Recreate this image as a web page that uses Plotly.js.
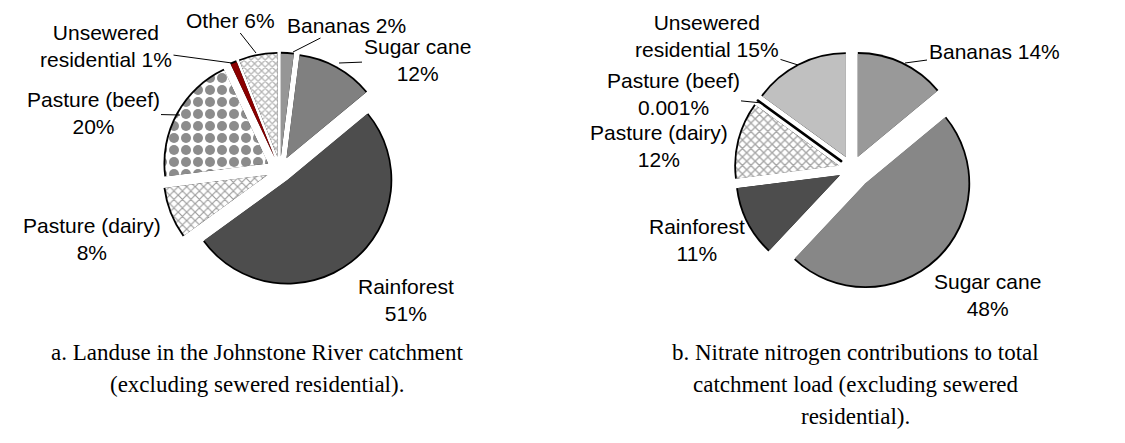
<!DOCTYPE html>
<html>
<head>
<meta charset="utf-8">
<script src="https://cdn.plot.ly/plotly-3.0.1.min.js"></script>
<style>html,body{margin:0;padding:0;background:#fff;}#chart{width:1125px;height:443px;}</style>
</head>
<body>
<div id="chart"></div>
<script>
// ---------- DATA ----------
// Chart a: landuse in the Johnstone River catchment (% of area)
const labelsA = ['Bananas', 'Sugar cane', 'Rainforest', 'Pasture (dairy)', 'Pasture (beef)', 'Unsewered residential', 'Other'];
const valuesA = [2, 12, 51, 8, 20, 1, 6];
const pctTextA = ['2%', '12%', '51%', '8%', '20%', '1%', '6%'];

// Chart b: nitrate nitrogen contributions (% of total catchment load)
const labelsB = ['Bananas', 'Sugar cane', 'Rainforest', 'Pasture (dairy)', 'Pasture (beef)', 'Unsewered residential'];
const valuesB = [14, 48, 11, 12, 0.001, 15];
const pctTextB = ['14%', '48%', '11%', '12%', '0.001%', '15%'];

const captionA = ['a. Landuse in the Johnstone River catchment', '(excluding sewered residential).'];
const captionB = ['b. Nitrate nitrogen contributions to total', 'catchment load (excluding sewered', 'residential).'];

// ---------- LAYOUT / STYLE ----------
const W = 1125, H = 443, R = 103, RIM = 1.6;
function dom(cx, cy, half) {
  return {x: [(cx - half) / W, (cx + half) / W], y: [1 - (cy + half) / H, 1 - (cy - half) / H]};
}
const pullA = [0.13, 0.13, 0.12, 0.13, 0.13, 0.13, 0.13];
const pullB = [0.13, 0.19, 0.13, 0.13, 0.13, 0.13];
const maxA = Math.max(...pullA), maxB = Math.max(...pullB);
const ctrA = [280, 170], ctrB = [852, 169];

const colorsA = ['#969696', '#808080', '#4d4d4d', '#ffffff', '#ffffff', '#8b0000', '#ffffff'];
const patA = {
  shape:   ['', '', '', 'x', '.', '', 'x'],
  fgcolor: ['#000', '#000', '#000', '#9c9c9c', '#8c8c8c', '#000', '#b4b4b4'],
  bgcolor: ['#fff', '#fff', '#fff', '#ffffff', '#ffffff', '#fff', '#ffffff'],
  size:    [8, 8, 8, 6, 12, 8, 5],
  solidity:[0.3, 0.3, 0.3, 0.35, 0.55, 0.3, 0.45]
};
const colorsB = ['#999999', '#878787', '#4d4d4d', '#ffffff', '#000000', '#c0c0c0'];
const patB = {
  shape:   ['', '', '', 'x', '', ''],
  fgcolor: ['#000', '#000', '#000', '#a6a6a6', '#000', '#000'],
  bgcolor: ['#fff', '#fff', '#fff', '#ffffff', '#fff', '#fff'],
  size:    [8, 8, 8, 6, 8, 8],
  solidity:[0.3, 0.3, 0.3, 0.4, 0.3, 0.3]
};

function pieTrace(labels, values, pull, ctr, maxPull, r, colors, pattern, lineW) {
  const t = {
    type: 'pie', labels: labels, values: values, sort: false, direction: 'clockwise', rotation: 0,
    pull: pull, domain: dom(ctr[0], ctr[1], r * (1 + maxPull)),
    textinfo: 'none', hoverinfo: 'skip', showlegend: false,
    marker: {colors: colors, line: {color: '#000', width: lineW}}
  };
  if (pattern) t.marker.pattern = pattern;
  return t;
}

const data = [
  // black rims (outer arcs) underneath
  pieTrace(labelsA, valuesA, pullA, ctrA, maxA, R + RIM, labelsA.map(() => '#000'), null, 0),
  pieTrace(labelsB, valuesB, pullB, ctrB, maxB, R + RIM, labelsB.map(() => '#000'), null, 0),
  // coloured slices
  pieTrace(labelsA, valuesA, pullA, ctrA, maxA, R, colorsA, patA, [0, 0, 0, 0, 0, 0, 0]),
  pieTrace(labelsB, valuesB, pullB, ctrB, maxB, R, colorsB, patB, [0, 0, 0, 0, 2.5, 0])
];

// ---------- LABELS ----------
const LBL_FONT = {family: 'Liberation Sans, Arial, sans-serif', size: 21, color: '#000'};
function lbl(text, tx, ty, target) {
  const a = {xref: 'paper', yref: 'paper', text: text, font: LBL_FONT, align: 'center',
             xanchor: 'center', yanchor: 'middle'};
  if (target) {
    a.x = target[0] / W; a.y = 1 - target[1] / H;
    a.ax = tx - target[0]; a.ay = ty - target[1];
    a.showarrow = true; a.arrowhead = 0; a.arrowwidth = 1; a.arrowcolor = '#000'; a.standoff = 0;
  } else {
    a.x = tx / W; a.y = 1 - ty / H; a.showarrow = false;
  }
  return a;
}
const two = (name, pct) => name + '<br>' + pct;
const one = (name, pct) => name + ' ' + pct;

const annotations = [
  // chart a
  lbl(one(labelsA[0], pctTextA[0]), 346, 25, [293, 52]),
  lbl(two(labelsA[1], pctTextA[1]), 417, 60, [339, 63]),
  lbl(two(labelsA[2], pctTextA[2]), 406, 300),
  lbl(two(labelsA[3], pctTextA[3]), 92, 239),
  lbl(two(labelsA[4], pctTextA[4]), 93, 113, [180, 115]),
  lbl(two('Unsewered', 'residential ' + pctTextA[5]), 106, 46, [232, 63]),
  lbl(one(labelsA[6], pctTextA[6]), 230, 20, [256, 53]),
  // chart b
  lbl(one(labelsB[0], pctTextB[0]), 994, 51, [905, 63]),
  lbl(two(labelsB[1], pctTextB[1]), 987, 295),
  lbl(two(labelsB[2], pctTextB[2]), 697, 240),
  lbl(two(labelsB[3], pctTextB[3]), 659, 146),
  lbl(two(labelsB[4], pctTextB[4]), 673, 94, [762, 103]),
  lbl(two('Unsewered', 'residential ' + pctTextB[5]), 707, 36, [798, 65])
];

const CAP_FONT = {family: 'Liberation Serif, Times New Roman, serif', size: 23, color: '#000'};
function cap(text, cx, cy) {
  return {xref: 'paper', yref: 'paper', x: cx / W, y: 1 - cy / H, text: text, showarrow: false,
          font: CAP_FONT, xanchor: 'center', yanchor: 'middle'};
}
captionA.forEach((t, i) => annotations.push(cap(t, 257, 352 + i * 32)));
captionB.forEach((t, i) => annotations.push(cap(t, 856, 352 + i * 32)));

const layout = {
  width: W, height: H, margin: {l: 0, r: 0, t: 0, b: 0},
  paper_bgcolor: '#fff', plot_bgcolor: '#fff', showlegend: false,
  annotations: annotations
};

Plotly.newPlot('chart', data, layout, {staticPlot: true, displayModeBar: false});
</script>
</body>
</html>
